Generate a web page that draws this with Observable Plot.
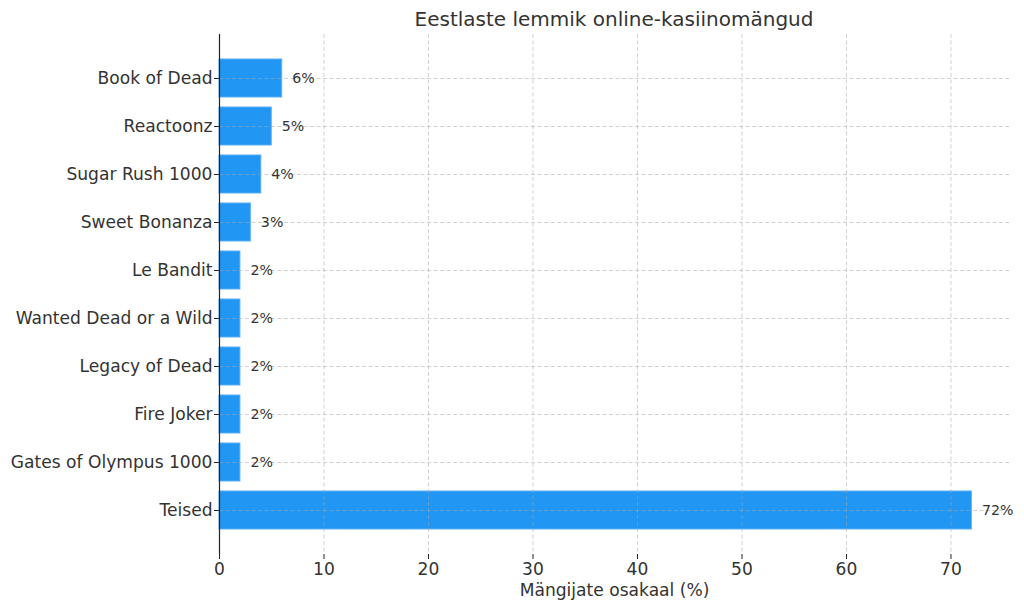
<!DOCTYPE html>
<html>
<head>
<meta charset="utf-8">
<script src="https://cdn.jsdelivr.net/npm/d3@7"></script>
<script src="https://cdn.jsdelivr.net/npm/@observablehq/plot@0.6"></script>
<style>
  html, body { margin: 0; padding: 0; background: #fff; }
  #wrap { width: 1024px; font-family: "DejaVu Sans", sans-serif; }
  #title { height: 34px; line-height: 39px; font-size: 20px; color: #333; text-align: center; padding-left: 219px; padding-right: 15px; box-sizing: border-box; width: 1024px; }
</style>
</head>
<body>
<div id="wrap">
  <div id="title">Eestlaste lemmik online-kasiinomängud</div>
  <div id="chart"></div>
</div>
<script>
const games = ["Book of Dead", "Reactoonz", "Sugar Rush 1000", "Sweet Bonanza", "Le Bandit", "Wanted Dead or a Wild", "Legacy of Dead", "Fire Joker", "Gates of Olympus 1000", "Teised"];
const shares = [6, 5, 4, 3, 2, 2, 2, 2, 2, 72];
const xTicks = [0, 10, 20, 30, 40, 50, 60, 70];
const xLabel = "Mängijate osakaal (%)";

const data = games.map((g, i) => ({game: g, share: shares[i], label: shares[i] + "%"}));

const chart = Plot.plot({
  width: 1024,
  height: 576,
  marginLeft: 219,
  marginRight: 15,
  marginTop: 0,
  marginBottom: 56,
  style: {fontFamily: "DejaVu Sans, sans-serif", color: "#333", background: "#fff"},
  x: {domain: [0, 75.6]},
  y: {domain: games, paddingInner: 0.2, paddingOuter: 0.49},
  marks: [
    Plot.barX(data, {x: "share", y: "game", fill: "#2196F3", stroke: "#5aaef5", strokeWidth: 1}),
    Plot.gridX(xTicks, {stroke: "#a8a8a8", strokeOpacity: 0.65, strokeDasharray: "4,2.5", strokeWidth: 0.8}),
    Plot.gridY(games, {stroke: "#a8a8a8", strokeOpacity: 0.65, strokeDasharray: "4,2.5", strokeWidth: 0.8}),
    Plot.text(data, {x: "share", y: "game", text: "label", textAnchor: "start", dx: 10, fontSize: 14.2, fill: "#333"}),
    Plot.axisY({tickSize: 5, tickPadding: 2, fontSize: 17.1, label: null, stroke: "#222"}),
    Plot.axisX(xTicks, {tickSize: 5, tickPadding: 3, fontSize: 17.1, label: xLabel, labelAnchor: "center", labelArrow: "none", labelOffset: 41, stroke: "#222"}),
    Plot.ruleX([0], {stroke: "#222", strokeWidth: 1.2}),
    Plot.ruleY([0], {frameAnchor: "bottom", stroke: "#222", strokeWidth: 1.2})
  ]
});
document.getElementById("chart").appendChild(chart);
</script>
</body>
</html>
